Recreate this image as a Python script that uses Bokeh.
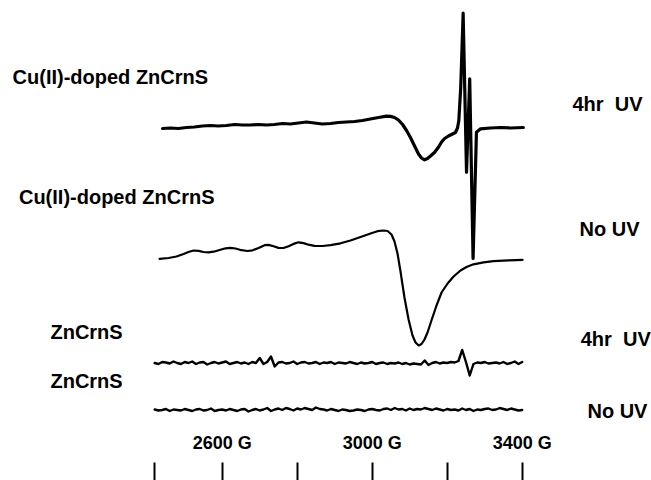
from bokeh.plotting import figure
from bokeh.models import Range1d, LinearAxis, FixedTicker, Label
from bokeh.embed import file_html
from bokeh.resources import INLINE

# ---------------- data (field in G, signal in arbitrary units) ----------------
# Cu(II)-doped ZnCrnS, 4 hr UV
CU_UV_FIELD = [2441, 2462, 2483, 2505, 2526, 2547, 2569, 2590, 2611, 2633,
               2654, 2675, 2697, 2718, 2739, 2761, 2782, 2803, 2825, 2846,
               2867, 2889, 2910, 2931, 2953, 2974, 2995, 3017, 3038, 3049,
               3059.5, 3070, 3081, 3091.5, 3102, 3113, 3123.5, 3131.5, 3139.5, 3147.5,
               3155.5, 3166, 3177, 3185, 3193, 3203.5, 3214, 3222, 3227.5, 3231,
               3236, 3239.5, 3242.5, 3251.5, 3260, 3269, 3278, 3289, 3315, 3342,
               3369, 3403]
CU_UV_SIGNAL = [-0.5, 0.0, -0.5, 0.5, 1.0, 2.0, 2.5, 2.0, 2.5, 3.5,
                3.0, 3.0, 3.5, 3.0, 3.5, 4.5, 4.0, 5.0, 6.0, 5.0,
                4.0, 4.5, 5.5, 6.0, 6.5, 7.5, 9.0, 10.5, 11.8, 11.6,
                10.5, 8.0, 3.5, -2.5, -9.5, -18.0, -26.0, -30.0, -31.8, -30.5,
                -28.0, -24.5, -19.0, -14.0, -10.5, -8.0, -6.0, -4.5, 0.0, 7.5,
                40.0, 80.0, 114.8, -44.2, 49.2, -130.5, -4.2, -0.8, 0.0, 0.5,
                0.0, 0.5]

# Cu(II)-doped ZnCrnS, no UV
CU_NOUV_FIELD = [2433, 2457, 2478, 2497, 2510, 2523.5, 2537, 2550, 2563.5, 2577,
                 2593, 2609, 2622, 2635.5, 2651.5, 2667.5, 2681, 2697, 2713, 2723.5,
                 2737, 2750, 2763.5, 2777, 2790, 2803.5, 2817, 2830, 2846, 2867.5,
                 2889, 2915.5, 2942, 2969, 2995.5, 3014, 3030, 3041, 3051.5, 3059.5,
                 3067.5, 3075.5, 3086, 3097, 3107.5, 3115.5, 3124, 3131.5, 3139.5, 3147.5,
                 3158, 3171.5, 3185, 3201, 3217, 3235.5, 3251.5, 3270, 3297, 3323.5,
                 3363.5, 3401]
CU_NOUV_SIGNAL = [0.7, 1.5, 3.0, 5.5, 7.5, 9.0, 8.6, 7.5, 7.2, 7.8,
                  9.5, 11.2, 11.7, 11.0, 9.3, 8.5, 9.2, 11.5, 14.3, 14.6,
                  13.2, 11.6, 11.5, 13.2, 15.6, 17.2, 16.4, 14.8, 13.6, 13.5,
                  14.3, 16.2, 19.0, 22.5, 26.0, 28.3, 29.0, 28.5, 25.0, 18.0,
                  6.0, -12.0, -38.0, -60.0, -76.0, -83.0, -86.0, -84.5, -80.0, -73.0,
                  -61.0, -46.0, -33.0, -24.0, -17.0, -11.0, -7.5, -4.8, -2.8, -1.7,
                  -0.8, -0.3]

# ZnCrnS traces (common field sweep)
ZN_FIELD = [2420, 2430, 2440, 2450, 2460, 2470, 2480, 2490, 2500, 2510,
            2520, 2530, 2540, 2550, 2560, 2570, 2580, 2590, 2600, 2610,
            2620, 2630, 2640, 2650, 2660, 2670, 2680, 2690, 2700, 2710,
            2720, 2730, 2740, 2750, 2760, 2770, 2780, 2790, 2800, 2810,
            2820, 2830, 2840, 2850, 2860, 2870, 2880, 2890, 2900, 2910,
            2920, 2930, 2940, 2950, 2960, 2970, 2980, 2990, 3000, 3010,
            3020, 3030, 3040, 3050, 3060, 3070, 3080, 3090, 3100, 3110,
            3120, 3130, 3140, 3150, 3160, 3170, 3180, 3190, 3200, 3210,
            3220, 3230, 3240, 3250, 3260, 3270, 3280, 3290, 3300, 3310,
            3320, 3330, 3340, 3350, 3360, 3370, 3380, 3390, 3400]
ZN_UV_SIGNAL = [0, -1, 1, 0.5, -0.5, 1.5, 0, -1, 1, 0,
                1.5, -1, 0.5, 1, -1.5, 0, 1, -0.5, 0.5, 1.5,
                -1, 0, 1, -0.5, 0.5, -1, 1, 0, 5, -1,
                1, 6.5, -3.5, 0.5, 1, -0.5, 0, 1.5, -1, 0.5,
                1, -0.5, 0, 1, -1, 0.5, 0, 1, -1, 0.5,
                0, -0.5, 1, 0, -1, 0.5, -0.5, 0, 1, -1,
                0, 0.5, -1, 0, -0.5, 0.5, -1, 0, -1.5, -0.5,
                -1, -1.5, 2.5, -2, 0, 1, -0.5, 0.5, 0, 1,
                0.5, 2, 13, 1, -12.5, -1, 0.5, 0, 1, -0.5,
                0, 0.5, -0.5, 1, -1, 0, 1.5, -1, 1]
ZN_NOUV_SIGNAL = [0.5, -0.5, 0, 1, -1, 0.5, 0, -0.5, 1, 0,
                  -1, 0.5, 1, -0.5, 0, 1.5, -1, 0, 0.5, -0.5,
                  1, 0, -1, 0.5, 1, -1.5, 0, 1, -0.5, 0.5,
                  2, -1, 0.5, 1.5, 0, 2, 1, -0.5, 1.5, 0.5,
                  2, 1, 0, 2.5, 1, 0.5, -0.5, 1, 0, -1,
                  0.5, 0, -1, -0.5, 0.5, 0, -1, 0.5, 1, 0,
                  -0.5, 1, 1.5, 0, 2, 0.5, 1, -0.5, 1.5, 0,
                  1, 0.5, 2, 1, 0, 1.5, 0.5, -0.5, 1, 0,
                  0.5, -0.5, 1.5, 0, 1, -1, 0.5, 0, 1, 1.5,
                  0, 0.5, 2, 1, 0, 1.5, 0.5, -0.5, 0]

OFFSETS = [334.5, 203.0, 99.5, 52.5]
LINE_WIDTHS = [3.2, 2.2, 2.4, 2.4]

LEFT_LABELS = ["Cu(II)-doped ZnCrnS", "Cu(II)-doped ZnCrnS", "ZnCrnS", "ZnCrnS"]
LEFT_X = [2041, 2058, 2142, 2142]
LEFT_Y = [386, 266, 131, 82]
RIGHT_LABELS = ["4hr\u00a0 UV", "No UV", "4hr\u00a0 UV", "No UV"]
RIGHT_X = [3534, 3553, 3556, 3574]
RIGHT_Y = [359, 234, 124, 52]

TICKS = [2420, 2600, 2800, 3000, 3200, 3400]
TICK_LABELS = {2420: "", 2600: "2600 G", 2800: "", 3000: "3000 G", 3200: "", 3400: "3400 G"}

# ---------------- figure ----------------
p = figure(width=651, height=480, output_backend="svg", toolbar_location=None,
           x_range=Range1d(2008.8, 3744.8), y_range=Range1d(0, 462),
           x_axis_location=None, y_axis_location=None,
           min_border_left=0, min_border_right=0, min_border_top=0, min_border_bottom=18)
p.outline_line_color = None
p.xgrid.visible = False
p.ygrid.visible = False
p.background_fill_color = "white"
p.border_fill_color = "white"

traces = [(CU_UV_FIELD, CU_UV_SIGNAL), (CU_NOUV_FIELD, CU_NOUV_SIGNAL),
          (ZN_FIELD, ZN_UV_SIGNAL), (ZN_FIELD, ZN_NOUV_SIGNAL)]
for (fx, sy), off, lw in zip(traces, OFFSETS, LINE_WIDTHS):
    p.line(fx, [s + off for s in sy], line_color="black", line_width=lw,
           line_join="round", line_cap="round")

FONT = "Liberation Sans"
for t, x, y in zip(LEFT_LABELS, LEFT_X, LEFT_Y):
    p.add_layout(Label(x=x, y=y, text=t, text_font=FONT, text_font_style="bold",
                       text_font_size="20px", text_baseline="middle", text_align="left",
                       text_color="black"))
for t, x, y in zip(RIGHT_LABELS, RIGHT_X, RIGHT_Y):
    p.add_layout(Label(x=x, y=y, text=t, text_font=FONT, text_font_style="bold",
                       text_font_size="20px", text_baseline="middle", text_align="left",
                       text_color="black"))

ax = LinearAxis(ticker=FixedTicker(ticks=TICKS), major_label_overrides=TICK_LABELS)
ax.axis_line_color = None
ax.major_tick_in = 0
ax.major_tick_out = 20
ax.major_tick_line_width = 2
ax.major_tick_line_color = "black"
ax.minor_tick_line_color = None
ax.major_label_standoff = -50
ax.major_label_text_font = FONT
ax.major_label_text_font_style = "bold"
ax.major_label_text_font_size = "18px"
ax.major_label_text_color = "black"
p.add_layout(ax, "below")

open("out.html", "w").write(file_html(p, INLINE))
